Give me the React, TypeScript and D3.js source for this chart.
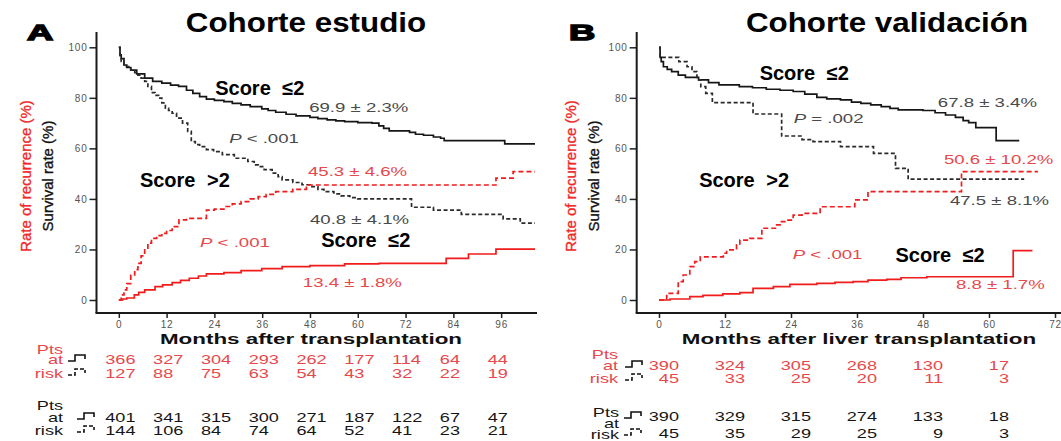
import * as d3 from 'd3'
import React, { useEffect, useRef } from 'react'

type Pt = [number, number]

// Cohorte estudio: [months, %]
const studyLowSurv: Pt[] = [[0, 100], [0.3, 97], [0.6, 95.5], [1.3, 93], [2, 92], [3, 91], [4.5, 89.5], [6.5, 87.8], [8.5, 86.5], [10.8, 85.8], [13, 85], [15, 84.5], [17, 83], [18.6, 81.8], [20.3, 80.5], [22, 79.5], [24, 79], [26.4, 78.5], [28.5, 77.8], [30.7, 77.2], [33, 76.5], [35.9, 75.6], [37.5, 75], [39.4, 74.3], [42, 73.5], [44.5, 72.9], [48, 72.3], [50, 71.8], [52.3, 71.3], [54.5, 70.9], [56.7, 70.6], [60, 70.2], [63.6, 70], [65.3, 68.9], [66.5, 67.9], [67.9, 66.9], [73, 66.3], [74.5, 65.6], [76.5, 65.2], [79, 64.5], [80.8, 64], [81.7, 63.1], [96.9, 61.8], [104.5, 61.8]]
const studyHighSurv: Pt[] = [[0, 100], [0.3, 96], [0.6, 94.4], [1.3, 92.4], [3, 91], [4, 90], [4.8, 89], [5.6, 87.8], [6.5, 86.5], [7.3, 84.5], [8.2, 82.1], [9.1, 81], [10, 79.9], [10.8, 78], [11.7, 75.9], [12.5, 75], [13.4, 73.9], [14.5, 72], [16, 70], [17.3, 66.7], [18.2, 62.7], [19.2, 61.5], [20.3, 60.7], [22, 59.5], [23.8, 58.7], [26, 57.5], [29, 56.1], [32.4, 54.8], [34, 53.5], [35, 52.8], [36.5, 51.6], [38.5, 50.2], [40, 48.8], [41, 47.5], [43.7, 46.5], [46, 45.6], [48, 44.9], [50, 43.8], [51.5, 42.9], [54, 42], [55.8, 41.2], [58, 40.5], [60, 40], [73.5, 36.7], [79, 35.6], [86, 33.9], [96.5, 32.1], [100.8, 30.4], [104.5, 30.4]]
const studyHighRec: Pt[] = [[0, 0], [0.6, 2], [1.3, 4], [2, 6.5], [3, 9.9], [4, 12], [4.8, 14.5], [5.6, 17.5], [6.5, 20.5], [7.3, 22.5], [8.2, 24.4], [9.5, 25.5], [10.8, 26.4], [12, 27.5], [13.4, 29], [15.1, 31.7], [17, 32.3], [22, 35.6], [24, 36], [26.4, 37], [28.5, 38], [30.7, 38.9], [33, 40], [35, 40.9], [37, 41.8], [39.4, 42.9], [43.7, 43.8], [47.1, 45.5], [94.7, 48.2], [99, 50.8], [104.5, 50.8]]
const studyLowRec: Pt[] = [[0, 0], [1, 0.4], [2, 0.8], [3.9, 2], [5, 3], [6.5, 4], [9.1, 5.3], [11, 6], [13.4, 6.9], [15.5, 7.8], [17.7, 8.6], [20, 9.5], [22, 10.3], [26.4, 10.8], [30.7, 11.6], [35.9, 12.4], [41, 13.2], [48, 13.6], [56.7, 14.3], [65.3, 14.5], [82.2, 16.5], [87.8, 18.2], [94.7, 20.1], [104.5, 20.1]]

// Cohorte validación
const validLowSurv: Pt[] = [[0, 100], [0.2, 96], [0.4, 94.3], [0.8, 92.3], [1.5, 91.3], [2.3, 90.4], [3.5, 89], [4.8, 88.1], [7.2, 87.1], [9, 86], [10.9, 85.1], [14.6, 84.4], [17, 84], [19.5, 83.4], [22, 83], [24.4, 82.5], [26.5, 81.5], [28.7, 80.2], [30.5, 79.6], [33, 79.2], [35, 78.3], [36.7, 77.8], [38.5, 77.2], [40.4, 76.5], [42, 75.8], [43.5, 75.2], [48, 75], [50.2, 74.1], [52.1, 73.2], [53.9, 72.3], [55.3, 71], [56.3, 70.2], [57.6, 68.2], [61.3, 63.1], [65.5, 63.1]]
const validHighSurv: Pt[] = [[0, 100], [0.2, 96], [3.6, 94.3], [5.1, 92.3], [6, 90.4], [6.9, 87.1], [7.6, 84.4], [8.5, 81.8], [9.7, 78.1], [17.1, 73.6], [22.3, 64.9], [26, 63.5], [28, 62.7], [33, 60.7], [39, 58], [43, 52.1], [45.3, 47.8], [66.4, 47.8]]
const validHighRec: Pt[] = [[0, 0], [1.4, 2.6], [3.5, 7.3], [4.4, 9.9], [5.6, 13.2], [6.5, 15.2], [7.5, 17.1], [11.7, 18.5], [12.3, 19.8], [14.1, 21.8], [14.7, 23.7], [16.5, 24.4], [18.7, 28.4], [21.4, 29.7], [22, 31], [23.2, 31.6], [24.4, 33.6], [26, 34.3], [29.3, 36.9], [35.6, 39.6], [38, 42.9], [55, 50.8], [68.9, 50.8]]
const validLowRec: Pt[] = [[0, 0], [2, 0.4], [5.6, 1.3], [8, 1.8], [11.6, 2.4], [14.7, 2.9], [17.1, 4.6], [20.8, 5.3], [23.8, 6.2], [28.7, 6.6], [32, 7], [35.3, 7.3], [38, 7.9], [41.4, 8.2], [44, 8.8], [48.7, 9.2], [64.4, 19.5], [67.9, 19.5]]

const yTicks = [0, 20, 40, 60, 80, 100]
const studyTicks = [0, 12, 24, 36, 48, 60, 72, 84, 96]
const validTicks = [0, 12, 24, 36, 48, 60, 72]
const validRiskTicks = [0, 12, 24, 36, 48, 60]

// pts at risk
const studyRiskRedLow = [366, 327, 304, 293, 262, 177, 114, 64, 44]
const studyRiskRedHigh = [127, 88, 75, 63, 54, 43, 32, 22, 19]
const studyRiskBlackLow = [401, 341, 315, 300, 271, 187, 122, 67, 47]
const studyRiskBlackHigh = [144, 106, 84, 74, 64, 52, 41, 23, 21]
const validRiskRedLow = [390, 324, 305, 268, 130, 17]
const validRiskRedHigh = [45, 33, 25, 20, 11, 3]
const validRiskBlackLow = [390, 329, 315, 274, 133, 18]
const validRiskBlackHigh = [45, 35, 29, 25, 9, 3]

// annotations, placed in data coords
const studyNotes = [
  { t: 24.2, v: 81.1, text: 'Score ≤2', kind: 'score' },
  { t: 47.8, v: 74.4, text: '69.9 ± 2.3%', kind: 'gray' },
  { t: 27.7, v: 62.1, text: 'P < .001', kind: 'gray' },
  { t: 47.5, v: 49.1, text: '45.3 ± 4.6%', kind: 'red' },
  { t: 5.3, v: 44.7, text: 'Score >2', kind: 'score' },
  { t: 48, v: 30.1, text: '40.8 ± 4.1%', kind: 'gray' },
  { t: 20.4, v: 21, text: 'P < .001', kind: 'red' },
  { t: 50.8, v: 21, text: 'Score ≤2', kind: 'score' },
  { t: 46.2, v: 5.1, text: '13.4 ± 1.8%', kind: 'red' },
]
const validNotes = [
  { t: 18.3, v: 87.1, text: 'Score ≤2', kind: 'score' },
  { t: 50.7, v: 76.3, text: '67.8 ± 3.4%', kind: 'gray' },
  { t: 24.5, v: 70.2, text: 'P = .002', kind: 'gray' },
  { t: 51.8, v: 53.7, text: '50.6 ± 10.2%', kind: 'red' },
  { t: 7.3, v: 44.8, text: 'Score >2', kind: 'score' },
  { t: 52.9, v: 37.6, text: '47.5 ± 8.1%', kind: 'gray' },
  { t: 24.3, v: 16.1, text: 'P < .001', kind: 'red' },
  { t: 43, v: 15.2, text: 'Score ≤2', kind: 'score' },
  { t: 54, v: 4.2, text: '8.8 ± 1.7%', kind: 'red' },
]

const RED = '#f01b1b'
const RED_TXT = '#e6484b'
const GRAY = '#4a4a4a'
const INK = '#161616'
const FONT = 'Liberation Sans, Arial, Helvetica, sans-serif'

const panels = [
  {
    letter: 'A', letterX: 27, title: 'Cohorte estudio', titleX: 306,
    axisX: 96.5, axisEnd: 537, xDomain: [0, 105], xRange: [118.8, 537], xTicks: studyTicks,
    xTitle: 'Months after transplantation', xTitleX: 311, recX: 31, survX: 53,
    curves: [studyLowSurv, studyHighSurv, studyHighRec, studyLowRec],
    notes: studyNotes,
    riskTicks: studyTicks, align: 'start', numOff: -13.5,
    blocks: [
      { color: RED_TXT, labelX: 63, iconX: 68, pts: 354, at: 364, risk: 378, rows: [364, 378], values: [studyRiskRedLow, studyRiskRedHigh] },
      { color: INK, labelX: 63, iconX: 77, pts: 410, at: 422, risk: 435, rows: [422, 435], values: [studyRiskBlackLow, studyRiskBlackHigh] },
    ],
  },
  {
    letter: 'B', letterX: 569, title: 'Cohorte validación', titleX: 887,
    axisX: 636.7, axisEnd: 1064, xDomain: [0, 72], xRange: [659, 1055], xTicks: validTicks,
    xTitle: 'Months after liver transplantation', xTitleX: 859, recX: 576, survX: 599,
    curves: [validLowSurv, validHighSurv, validHighRec, validLowRec],
    notes: validNotes,
    riskTicks: validRiskTicks, align: 'end', numOff: 20,
    blocks: [
      { color: RED_TXT, labelX: 618, iconX: 625, pts: 359, at: 370, risk: 383, rows: [370, 383], values: [validRiskRedLow, validRiskRedHigh] },
      { color: INK, labelX: 619, iconX: 624, pts: 417, at: 428, risk: 439, rows: [421, 438], values: [validRiskBlackLow, validRiskBlackHigh] },
    ],
  },
]

const put = (g: any, x: number, y: number, s: string, o: any) => {
  const t = g.append('text')
    .attr('transform', `translate(${x},${y}) scale(${o.sx || 1},1)${o.rot ? ' rotate(-90)' : ''}`)
    .attr('text-anchor', o.anchor || 'start')
    .attr('font-family', FONT)
    .attr('font-size', o.size)
    .attr('font-weight', o.weight || 'normal')
    .attr('fill', o.color)
  if (o.word) t.attr('word-spacing', o.word)
  if (o.stroke) t.attr('stroke', o.color).attr('stroke-width', o.stroke)
  if (s.startsWith('P ')) {
    t.append('tspan').attr('font-style', 'italic').text('P')
    t.append('tspan').text(s.slice(1))
  } else t.text(s)
  return t
}

const Chart = () => {
  const ref = useRef(null)

  useEffect(() => {
    const svg = d3.select(ref.current)
    svg.selectAll('*').remove()
    svg.append('rect').attr('width', 1061).attr('height', 441).attr('fill', '#fff')

    panels.forEach((p: any) => {
      const g = svg.append('g')
      const x = d3.scaleLinear().domain(p.xDomain).range(p.xRange)
      const y = d3.scaleLinear().domain([0, 100]).range([300, 47.3])

      // headings
      put(g, p.letterX, 40, p.letter, { size: 22, weight: 'bold', sx: 1.65, color: '#000', stroke: 1.4 })
      put(g, p.titleX, 31.7, p.title, { size: 28, weight: 'bold', sx: 1.12, anchor: 'middle', color: '#000' })

      // axes
      const ya = g.append('g').attr('transform', `translate(${p.axisX},0)`)
        .call(d3.axisLeft(y).tickValues(yTicks).tickSize(7).tickPadding(2))
      const xa = g.append('g').attr('transform', 'translate(0,313)')
        .call(d3.axisBottom(x).tickValues(p.xTicks).tickSize(5).tickPadding(3))
      ;[ya, xa].forEach(a => {
        a.select('.domain').remove()
        a.selectAll('line').attr('stroke', '#222').attr('stroke-width', 1.5)
        a.selectAll('text').attr('font-family', FONT).attr('font-size', 10)
          .attr('letter-spacing', 0.8).attr('fill', '#555')
      })
      g.append('line').attr('x1', p.axisX).attr('x2', p.axisX).attr('y1', 32).attr('y2', 313)
        .attr('stroke', '#1a1a1a').attr('stroke-width', 2)
      g.append('line').attr('x1', p.axisX - 1).attr('x2', p.axisEnd).attr('y1', 313).attr('y2', 313)
        .attr('stroke', '#1a1a1a').attr('stroke-width', 2)

      // y titles
      put(g, p.recX, 176, 'Rate of recurrence (%)', { size: 15, rot: true, anchor: 'middle', color: '#f02a2a', stroke: 0.35 })
      put(g, p.survX, 176, 'Survival rate (%)', { size: 15, rot: true, anchor: 'middle', color: '#111', stroke: 0.35 })

      // curves
      const line = d3.line<Pt>().x(d => x(d[0])).y(d => y(d[1])).curve(d3.curveStepAfter)
      const styles = [
        { c: INK, dash: null },
        { c: '#2a2a2a', dash: '4,2.5' },
        { c: RED, dash: '5,3' },
        { c: RED, dash: null },
      ]
      p.curves.forEach((c: Pt[], i: number) => {
        g.append('path').attr('d', line(c)).attr('fill', 'none')
          .attr('stroke', styles[i].c).attr('stroke-width', 1.7)
          .attr('stroke-dasharray', styles[i].dash)
      })

      // annotations
      p.notes.forEach((n: any) => {
        if (n.kind === 'score') put(g, x(n.t), y(n.v), n.text, { size: 20, weight: 'bold', word: 6, color: '#000' })
        else put(g, x(n.t), y(n.v), n.text, { size: 12, sx: 1.55, color: n.kind === 'red' ? RED_TXT : GRAY })
      })

      // x title
      put(g, p.xTitleX, 344, p.xTitle, { size: 14, weight: 'bold', sx: 1.6, anchor: 'middle', color: '#111' })

      // risk tables
      p.blocks.forEach((b: any) => {
        const o = { size: 12.5, sx: 1.45, anchor: 'end', color: b.color }
        put(g, b.labelX, b.pts, 'Pts', o)
        put(g, b.labelX, b.at, 'at', o)
        put(g, b.labelX, b.risk, 'risk', o)
        b.rows.forEach((ry: number, i: number) => {
          const yy = ry - 3
          g.append('path')
            .attr('d', `M${b.iconX},${yy} h7 v-6 h10 v4`)
            .attr('fill', 'none').attr('stroke', '#111').attr('stroke-width', 1.6)
            .attr('stroke-dasharray', i === 1 ? '4,2' : null)
          b.values[i].forEach((v: number, k: number) => {
            put(g, x(p.riskTicks[k]) + p.numOff, ry, String(v), { size: 12.5, sx: 1.45, anchor: p.align, color: b.color })
          })
        })
      })
    })
  }, [])

  return <svg ref={ref} width={1061} height={441} style={{ position: 'absolute', left: 0, top: 0 }}></svg>
}

export default function App() {
  return <Chart />
}
